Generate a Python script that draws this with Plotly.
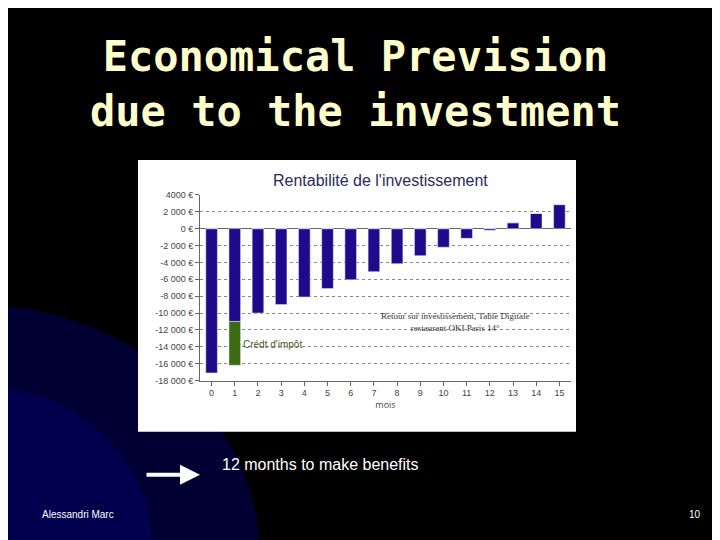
import plotly.graph_objects as go

months = list(range(16))
blue_vals = [-17100, -11000, -10000, -9000, -8100, -7100, -6050, -5100, -4150, -3200, -2200, -1150, -200, 700, 1800, 2850]
green_vals = [0, -5200, 0, 0, 0, 0, 0, 0, 0, 0, 0, 0, 0, 0, 0, 0]
tick_vals = [4000, 2000, 0, -2000, -4000, -6000, -8000, -10000, -12000, -14000, -16000, -18000]
tick_text = ["4000 €", "2 000 €", "0 €", "-2 000 €", "-4 000 €", "-6 000 €", "-8 000 €", "-10 000 €", "-12 000 €", "-14 000 €", "-16 000 €", "-18 000 €"]

fig = go.Figure()
fig.add_bar(x=months, y=blue_vals, marker_color="#1f0a8c", width=0.5)
fig.add_bar(x=months, y=green_vals, marker_color="#3d6b14", width=0.5)

W, H = 720, 540
OFF = 8
def px(x): return (x - OFF) / W
def py(y):
    t = (y - 9) / 0.957
    return 1 - (t - OFF) / H

shapes = [
    dict(type="circle", xref="paper", yref="paper", x0=-0.45, x1=0.35, y0=-0.5, y1=0.45,
         fillcolor="#000033", line_width=0, layer="below"),
    dict(type="circle", xref="paper", yref="paper", x0=-0.3, x1=0.2, y0=-0.3, y1=0.3,
         fillcolor="#00004d", line_width=0, layer="below"),
    dict(type="rect", xref="paper", yref="paper", x0=px(138), x1=px(576), y0=py(425), y1=py(160),
         fillcolor="white", line_width=0, layer="below"),
]

fig.update_layout(
    width=W, height=H, margin=dict(l=0, r=0, t=0, b=0),
    paper_bgcolor="black", plot_bgcolor="white",
    barmode="relative", showlegend=False, shapes=shapes,
    xaxis=dict(domain=[px(200), px(571)], tickvals=months, ticks="outside", ticklen=4,
               tickcolor="#666", tickfont=dict(family="Liberation Sans", size=9, color="#444"),
               showline=True, linecolor="#666", range=[-0.5, 15.5],
               title=dict(text="mois", font=dict(size=9, color="#444"), standoff=2)),
    yaxis=dict(domain=[py(375), py(194)], range=[-18000, 4000], tickvals=tick_vals, ticktext=tick_text,
               tickfont=dict(family="Liberation Sans", size=9, color="#444"), ticks="outside", ticklen=4,
               tickcolor="#666", showline=True, linecolor="#666",
               showgrid=True, gridcolor="#888", griddash="dot", gridwidth=1,
               zeroline=True, zerolinecolor="#666", zerolinewidth=1),
    annotations=[
        dict(text="Economical Prevision<br>due to the investment", xref="paper", yref="paper",
             x=px(355), y=py(33), yanchor="top", showarrow=False,
             font=dict(family="DejaVu Sans Mono", size=42, color="#ffffcc", weight="bold")),
        dict(text="Rentabilité de l'investissement", xref="paper", yref="paper",
             x=px(380), y=py(170), showarrow=False,
             font=dict(family="Liberation Sans", size=16, color="#2a2a5a")),
        dict(text="Crédt d'impôt", x=1.25, y=-13700, xanchor="left", showarrow=False,
             font=dict(family="Liberation Sans", size=10, color="#4a5a20")),
        dict(text="Retour sur investissement, Table Digitale<br>restaurant OKI Paris 14°", x=10.5, y=-11100,
             showarrow=False, font=dict(family="Liberation Serif", size=9, color="#333")),
        dict(text="12 months to make benefits", xref="paper", yref="paper", x=px(220), y=py(467),
             xanchor="left", showarrow=False, font=dict(family="Liberation Sans", size=16, color="white")),
        dict(text="", xref="paper", yref="paper", ax=-55, ay=0,
             x=px(200), y=py(467), showarrow=True, arrowhead=2, arrowsize=1, arrowwidth=4, arrowcolor="white"),
        dict(text="Alessandri Marc", xref="paper", yref="paper", x=px(40), y=py(513), xanchor="left",
             showarrow=False, font=dict(family="Liberation Sans", size=10, color="white")),
        dict(text="10", xref="paper", yref="paper", x=px(703), y=py(513), xanchor="right",
             showarrow=False, font=dict(family="Liberation Sans", size=10, color="white")),
    ],
)
fig.write_html("out.html")
